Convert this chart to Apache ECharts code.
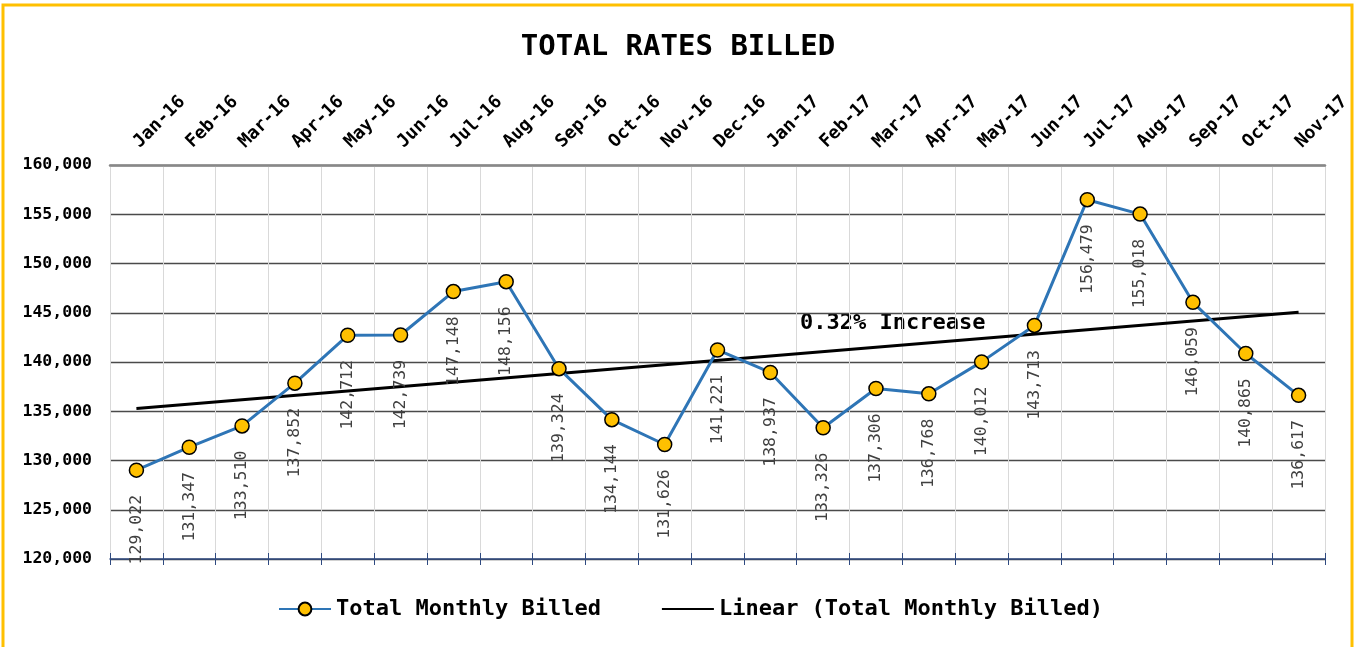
<!DOCTYPE html>
<html>
<head>
<meta charset="utf-8">
<script src="https://cdn.jsdelivr.net/npm/echarts@6/dist/echarts.min.js"></script>
<style>
  html, body { margin: 0; padding: 0; background: #fff; }
  #chartBox { width: 1356px; height: 647px; }
</style>
</head>
<body>
<div id="chartBox"></div>
<script>
// months on the category axis
const months = ['Jan-16', 'Feb-16', 'Mar-16', 'Apr-16', 'May-16', 'Jun-16', 'Jul-16', 'Aug-16',
  'Sep-16', 'Oct-16', 'Nov-16', 'Dec-16', 'Jan-17', 'Feb-17', 'Mar-17', 'Apr-17', 'May-17',
  'Jun-17', 'Jul-17', 'Aug-17', 'Sep-17', 'Oct-17', 'Nov-17']
// total monthly billed
const billed = [129022, 131347, 133510, 137852, 142712, 142739, 147148, 148156, 139324, 134144,
  131626, 141221, 138937, 133326, 137306, 136768, 140012, 143713, 156479, 155018, 146059,
  140865, 136617]
// ends of the linear trend line
const trendEnds = [135283, 145057]
const yTicks = { min: 120000, max: 160000, step: 5000 }

const font = '"DejaVu Sans Mono", "Liberation Mono", monospace'
const fmt = v => v.toLocaleString('en-US')

let myChart = echarts.init(document.getElementById('chartBox'))
myChart.setOption({
  animation: false,
  textStyle: { fontFamily: font },
  title: {
    text: 'TOTAL RATES BILLED',
    left: 'center',
    top: 28,
    textStyle: { fontFamily: font, fontSize: 29, fontWeight: 'bold', color: '#000' }
  },
  legend: {
    bottom: 22,
    left: 273,
    itemWidth: 52,
    itemHeight: 16,
    itemGap: 60,
    textStyle: { fontFamily: font, fontSize: 22, fontWeight: 'bold', color: '#000' },
    data: [
      { name: 'Total Monthly Billed' },
      { name: 'Linear (Total Monthly Billed)', itemStyle: { opacity: 0 } }
    ]
  },
  grid: { left: 110, right: 31, top: 165, bottom: 88 },
  xAxis: [
    {
      type: 'category',
      position: 'top',
      data: months,
      axisLine: { lineStyle: { color: '#888', width: 2.5 } },
      axisTick: { show: false },
      axisLabel: {
        rotate: -45,
        interval: 0,
        margin: 20,
        fontFamily: font,
        fontSize: 18,
        fontWeight: 'bold',
        color: '#000'
      },
      splitLine: { show: true, interval: 0, lineStyle: { color: '#d9d9d9', width: 1 } }
    },
    {
      type: 'category',
      position: 'bottom',
      data: months,
      axisLine: { onZero: false, lineStyle: { color: '#2f4a80', width: 1.5 } },
      axisTick: { show: true, interval: 0, length: 6, lineStyle: { color: '#2f4a80' } },
      axisLabel: { show: false }
    },
    {
      type: 'category',
      position: 'bottom',
      data: months,
      axisLine: { show: false, onZero: false },
      axisTick: { show: true, inside: true, interval: 0, length: 6, lineStyle: { color: '#2f4a80' } },
      axisLabel: { show: false }
    }
  ],
  yAxis: {
    type: 'value',
    min: yTicks.min,
    max: yTicks.max,
    interval: yTicks.step,
    axisLine: { show: false },
    axisTick: { show: false },
    axisLabel: {
      margin: 18,
      fontFamily: font,
      fontSize: 16.5,
      fontWeight: 'bold',
      color: '#000',
      formatter: fmt
    },
    splitLine: { lineStyle: { color: '#4a4a4a', width: 1.3 } }
  },
  series: [
    {
      name: 'Linear (Total Monthly Billed)',
      type: 'line',
      symbol: 'none',
      data: [[months[0], trendEnds[0]], [months[months.length - 1], trendEnds[1]]],
      lineStyle: { color: '#000', width: 3 },
      itemStyle: { color: '#000' },
      z: 3
    },
    {
      name: 'Total Monthly Billed',
      type: 'line',
      data: billed,
      symbol: 'circle',
      symbolSize: 14,
      lineStyle: { color: '#2e75b6', width: 3 },
      itemStyle: { color: '#ffc000', borderColor: '#000', borderWidth: 1.5 },
      label: {
        show: true,
        position: 'bottom',
        distance: 17,
        rotate: 90,
        align: 'right',
        verticalAlign: 'middle',
        fontFamily: font,
        fontSize: 16.5,
        color: '#404040',
        formatter: p => fmt(p.value)
      },
      z: 4
    }
  ],
  graphic: [
    {
      type: 'text',
      left: 800,
      top: 312,
      style: { text: '0.32% Increase', font: 'bold 22px ' + font, fill: '#000' }
    },
    {
      type: 'rect',
      shape: { x: 3, y: 5, width: 1349, height: 670 },
      style: { fill: 'none', stroke: '#ffc000', lineWidth: 3 },
      silent: true
    }
  ]
})
</script>
</body>
</html>
